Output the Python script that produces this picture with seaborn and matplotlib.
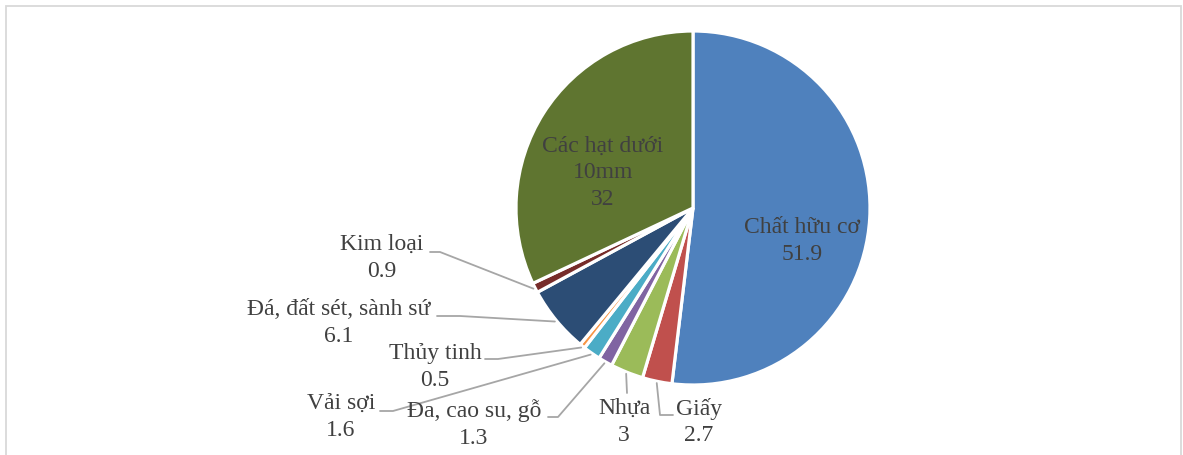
import numpy as np
import matplotlib
matplotlib.use("Agg")
import matplotlib.pyplot as plt
from matplotlib.patches import Rectangle
from matplotlib.lines import Line2D
import seaborn as sns

# Composition of waste (%)
categories = ["Chất hữu cơ", "Giấy", "Nhựa", "Đa, cao su, gỗ", "Vải sợi",
              "Thủy tinh", "Đá, đất sét, sành sứ", "Kim loại", "Các hạt dưới\n10mm"]
values = [51.9, 2.7, 3, 1.3, 1.6, 0.5, 6.1, 0.9, 32]
colors = ["#4F81BD", "#C0504D", "#9BBB59", "#8064A2", "#4BACC6",
          "#F79646", "#2C4D75", "#772C2A", "#5F7530"]

sns.set_theme(style="white")
plt.rcParams["font.family"] = ["Liberation Serif", "DejaVu Serif"]

W, H = 1183, 455
fig = plt.figure(figsize=(W / 100, H / 100), dpi=100)
ax = fig.add_axes([0, 0, 1, 1])


def px(x, y):
    """Convert top-left pixel coordinates to axes data coordinates."""
    return x, H - y


cx, cy = px(693, 208)
R = 177
wedges, _ = ax.pie(values, colors=colors, startangle=90, counterclock=False,
                   center=(cx, cy), radius=R, frame=True,
                   wedgeprops=dict(edgecolor="white", linewidth=2.3))
ax.set_xlim(0, W)
ax.set_ylim(0, H)
ax.set_aspect("equal")
ax.set_axis_off()

# outer chart frame
fig.patches.append(Rectangle((6 / W, -0.05), (W - 8) / W, (H - 6) / H + 0.05,
                             transform=fig.transFigure, fill=False,
                             edgecolor="#D9D9D9", linewidth=1.3))

txt_color = "#404040"
line_color = "#A6A6A6"
fs = 17

# label block centres and leader routes (text side -> elbow)
layout = {
    "Chất hữu cơ": dict(pos=(802, 241), route=None),
    "Các hạt dưới\n10mm": dict(pos=(603, 173), route=None),
    "Kim loại": dict(pos=(382, 258), route=[(430, 252), (440, 252)]),
    "Đá, đất sét, sành sứ": dict(pos=(339, 323), route=[(437, 316), (460, 316)]),
    "Thủy tinh": dict(pos=(435, 367), route=[(485, 359), (498, 359)]),
    "Vải sợi": dict(pos=(341, 417), route=[(380, 411), (393, 411)]),
    "Đa, cao su, gỗ": dict(pos=(474, 424), route=[(548, 417), (558, 417)]),
    "Nhựa": dict(pos=(624, 422), route=[(627, 393)]),
    "Giấy": dict(pos=(699, 422), route=[(673, 415), (660, 415)]),
}

for w, name, val in zip(wedges, categories, values):
    spec = layout[name]
    x, y = px(*spec["pos"])
    ax.text(x, y, f"{name}\n{val:g}", ha="center", va="center",
            fontsize=fs, color=txt_color, linespacing=1.36)
    if spec["route"] is not None:
        mid = np.deg2rad((w.theta1 + w.theta2) / 2)
        ex = cx + R * 1.01 * np.cos(mid)
        ey = cy + R * 1.01 * np.sin(mid)
        pts = [px(*p) for p in spec["route"]] + [(ex, ey)]
        xs, ys = zip(*pts)
        ax.add_line(Line2D(xs, ys, color=line_color, linewidth=1.3))

fig.savefig("out.png", dpi=100)
